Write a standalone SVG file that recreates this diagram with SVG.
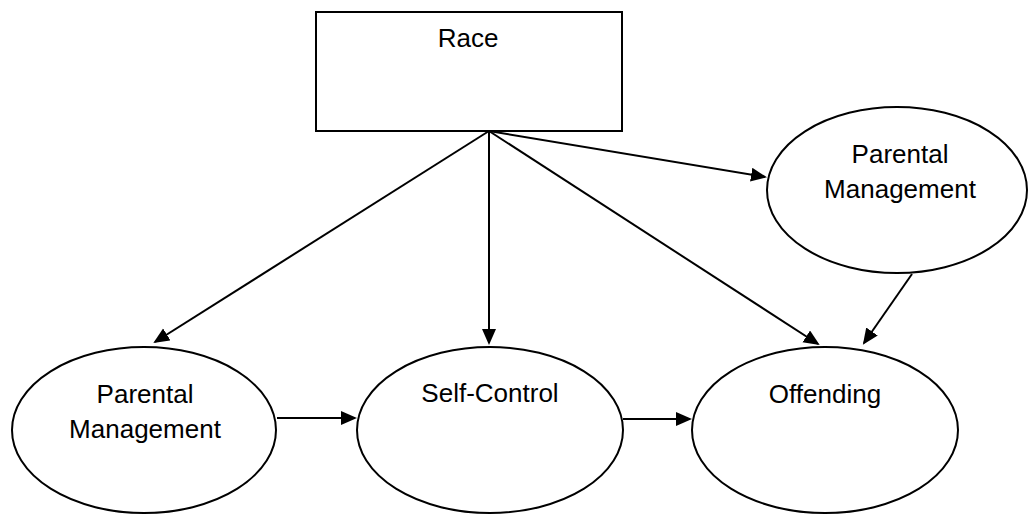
<svg xmlns="http://www.w3.org/2000/svg" width="1029" height="514" viewBox="0 0 1029 514">
<style>
.node{fill:#fff;stroke:#000;stroke-width:2}
.lbl{font-family:"Liberation Sans",Arial,sans-serif;font-size:26px;fill:#000;text-anchor:middle}
.edge{stroke:#000;stroke-width:2;fill:none;marker-end:url(#arr)}
</style>
<defs>
<marker id="arr" markerUnits="userSpaceOnUse" markerWidth="18" markerHeight="16" refX="14" refY="7" orient="auto">
<path d="M0,0 L16,7 L0,14 z" fill="#000"/>
</marker>
</defs>
<rect width="1029" height="514" fill="#fff"/>
<g id="connectors">
<line class="edge" x1="489" y1="131" x2="155" y2="342"/>
<line class="edge" x1="489" y1="131" x2="489" y2="343"/>
<line class="edge" x1="489" y1="131" x2="818" y2="344"/>
<line class="edge" x1="489" y1="131" x2="765" y2="177"/>
<line class="edge" x1="912" y1="274" x2="864" y2="343"/>
<line class="edge" x1="277" y1="418" x2="355" y2="418"/>
<line class="edge" x1="623" y1="419" x2="690" y2="419"/>
</g>
<g id="race">
<rect class="node" x="316" y="12" width="306" height="119"/>
<text class="lbl" x="468" y="47">Race</text>
</g>
<g id="parental-management-top">
<ellipse class="node" cx="897" cy="190" rx="130" ry="83"/>
<text class="lbl" x="900" y="163">Parental</text>
<text class="lbl" x="900" y="198">Management</text>
</g>
<g id="parental-management">
<ellipse class="node" cx="144" cy="430" rx="132" ry="83"/>
<text class="lbl" x="145" y="403">Parental</text>
<text class="lbl" x="145" y="438">Management</text>
</g>
<g id="self-control">
<ellipse class="node" cx="490" cy="430" rx="133" ry="83"/>
<text class="lbl" x="490" y="402">Self-Control</text>
</g>
<g id="offending">
<ellipse class="node" cx="825" cy="430" rx="133" ry="83"/>
<text class="lbl" x="825" y="403">Offending</text>
</g>
</svg>
